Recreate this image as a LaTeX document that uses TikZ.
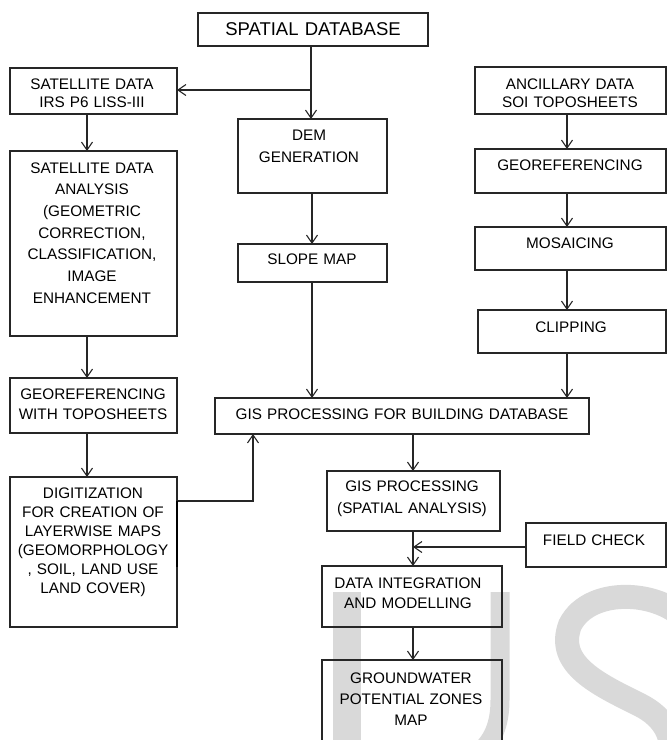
\documentclass[tikz,border=0pt]{standalone}
\usepackage{fontspec}
\setmainfont{Liberation Sans}
\usetikzlibrary{arrows.meta}
\begin{document}
\begin{tikzpicture}[x=1pt,y=-1pt,
  box/.style={draw=black!85, line width=1.1pt, inner sep=0pt, outer sep=0pt, anchor=north west},
  txt/.style={align=center, text width=380pt, inner sep=0pt, anchor=base, font=\fontsize{15.3}{20}\selectfont},
  arr/.style={draw=black!85, line width=1.1pt, -{Straight Barb[length=8pt,width=11pt,line width=1.1pt]}},
  wm/.style={draw=black!15, line cap=butt}]
\useasboundingbox (0,0) rectangle (667,740);
\clip (0,0) rectangle (667,740);
% watermark
\fill[black!15] (333,592) rectangle (361,745);
\draw[wm, line width=19pt] (500,592) -- (500,700) .. controls (500,750) and (470,765) .. (420,775);
\draw[wm, line width=24pt] (690,625) .. controls (665,590) and (590,585) .. (570,625)
   .. controls (555,665) and (600,685) .. (640,705) .. controls (690,730) and (680,790) .. (600,790)
   .. controls (575,790) and (565,770) .. (560,745);
% boxes
\node[box, minimum width=230pt, minimum height=33pt] (sp) at (198,13) {};
\node[box, minimum width=167pt, minimum height=46pt] (sat1) at (10,68) {};
\node[box, minimum width=167pt, minimum height=185pt] (sat2) at (10,151) {};
\node[box, minimum width=167pt, minimum height=55pt] (geo1) at (10,378) {};
\node[box, minimum width=167pt, minimum height=150pt] (dig) at (10,477) {};
\node[box, minimum width=149pt, minimum height=74pt] (dem) at (238,119) {};
\node[box, minimum width=149pt, minimum height=38pt] (slope) at (238,244) {};
\node[box, minimum width=374pt, minimum height=36pt] (gis) at (215,398) {};
\node[box, minimum width=191pt, minimum height=47pt] (anc) at (475,67) {};
\node[box, minimum width=191pt, minimum height=44pt] (geo2) at (475,149) {};
\node[box, minimum width=191pt, minimum height=43pt] (mos) at (475,227) {};
\node[box, minimum width=188pt, minimum height=43pt] (clip) at (478,310) {};
\node[box, minimum width=173pt, minimum height=60pt] (gsa) at (327,471) {};
\node[box, minimum width=140pt, minimum height=44pt] (field) at (526,523) {};
\node[box, minimum width=180pt, minimum height=61pt] (dint) at (322,566) {};
\node[box, minimum width=180pt, minimum height=110pt] (gw) at (322,660) {};
% texts
\node[txt, font=\fontsize{18.5}{22}\selectfont] (tsp) at (313,35) {SPATIAL DATABASE};
\node[txt, font=\fontsize{15.3}{18}\selectfont] (tsat1) at (92,89) {SATELLITE DATA\\IRS P6 LISS-III};
\node[txt, font=\fontsize{15.3}{21.7}\selectfont] (tsat2) at (92,173) {SATELLITE DATA\\ANALYSIS\\(GEOMETRIC\\CORRECTION,\\CLASSIFICATION,\\IMAGE\\ENHANCEMENT};
\node[txt] (tgeo1) at (93,399) {GEOREFERENCING\\WITH TOPOSHEETS};
\node[txt, font=\fontsize{15.3}{19}\selectfont] (tdig) at (93,498) {DIGITIZATION\\FOR CREATION OF\\LAYERWISE MAPS\\(GEOMORPHOLOGY\\, SOIL, LAND USE\\LAND COVER)};
\node[txt, font=\fontsize{15.3}{22}\selectfont] (tdem) at (309,140) {DEM\\GENERATION};
\node[txt] (tslope) at (312,264) {SLOPE MAP};
\node[txt] (tgis) at (402,419) {GIS PROCESSING FOR BUILDING DATABASE};
\node[txt, font=\fontsize{15.3}{18}\selectfont] (tanc) at (570,89) {ANCILLARY DATA\\SOI TOPOSHEETS};
\node[txt] (tgeo2) at (570,170) {GEOREFERENCING};
\node[txt] (tmos) at (570,248) {MOSAICING};
\node[txt] (tclip) at (571,332) {CLIPPING};
\node[txt, font=\fontsize{15.3}{22}\selectfont] (tgsa) at (412,491) {GIS PROCESSING\\(SPATIAL ANALYSIS)};
\node[txt] (tfield) at (594,545) {FIELD CHECK};
\node[txt] (tdint) at (408,588) {DATA INTEGRATION\\AND MODELLING};
\node[txt, font=\fontsize{15.3}{21}\selectfont] (tgw) at (411,683) {GROUNDWATER\\POTENTIAL ZONES\\MAP};
% connector coordinates
\coordinate (j1) at (311,90);
\coordinate (xl) at (87,0);
\coordinate (xm) at (312,0);
\coordinate (xr) at (567,0);
\coordinate (xg) at (413,0);
\coordinate (xd) at (253,0);
\coordinate (dy) at (0,501);
\coordinate (dy2) at (0,567);
\coordinate (fy) at (0,547);
% connectors
\draw[arr] (sp.south -| j1) -- (dem.north -| j1);
\draw[arr] (j1) -- (sat1.east |- j1);
\draw[arr] (sat1.south -| xl) -- (sat2.north -| xl);
\draw[arr] (sat2.south -| xl) -- (geo1.north -| xl);
\draw[arr] (geo1.south -| xl) -- (dig.north -| xl);
\draw[arr] (dig.east |- dy) -| (gis.south -| xd);
\draw[black, line width=2.8pt] (dig.east |- dy) -- (dig.east |- dy2);
\draw[arr] (dem.south -| xm) -- (slope.north -| xm);
\draw[arr] (slope.south -| xm) -- (gis.north -| xm);
\draw[arr] (anc.south -| xr) -- (geo2.north -| xr);
\draw[arr] (geo2.south -| xr) -- (mos.north -| xr);
\draw[arr] (mos.south -| xr) -- (clip.north -| xr);
\draw[arr] (clip.south -| xr) -- (gis.north -| xr);
\draw[arr] (gis.south -| xg) -- (gsa.north -| xg);
\draw[arr] (gsa.south -| xg) -- (dint.north -| xg);
\draw[arr] (field.west |- fy) -- (xg |- fy);
\draw[arr] (dint.south -| xg) -- (gw.north -| xg);
\end{tikzpicture}
\end{document}
